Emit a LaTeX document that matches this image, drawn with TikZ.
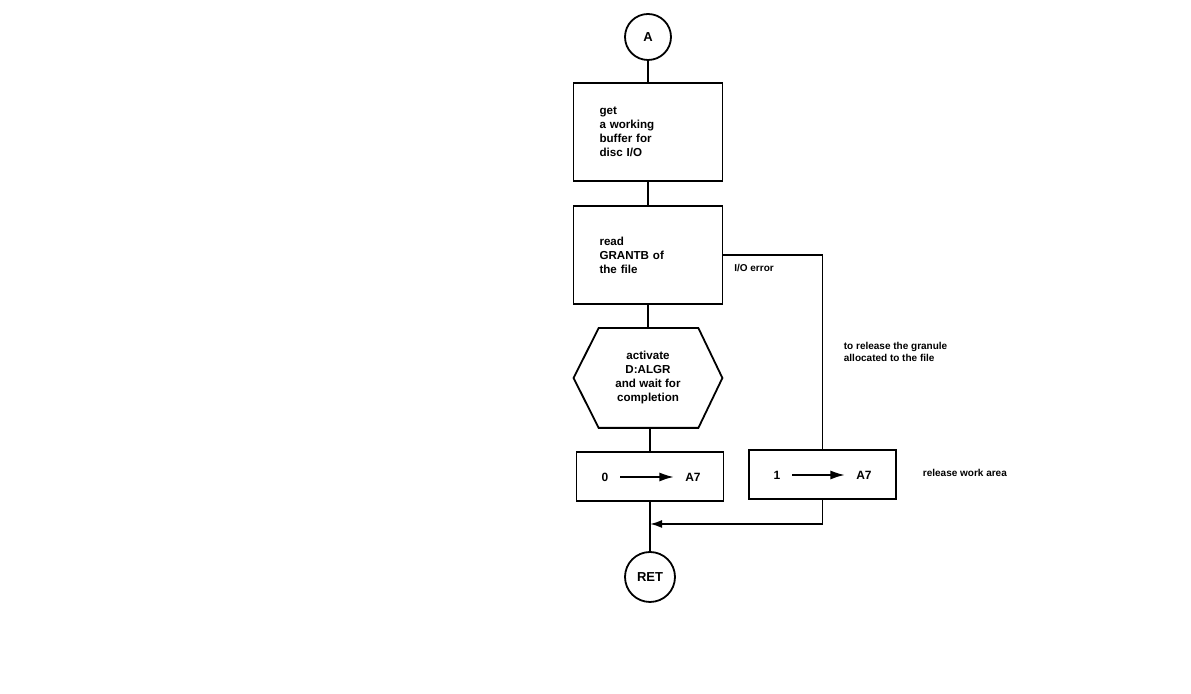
\documentclass[tikz,border=0pt]{standalone}
\usepackage{fontspec}
\setmainfont{Liberation Sans}
\usepackage{tikz}
\usetikzlibrary{positioning,arrows.meta,calc}

\begin{document}
\begin{tikzpicture}[x=0.5pt, y=-0.5pt,
    line width=0.9pt,
    blk/.style={rectangle, draw=black, minimum width=74.5pt, minimum height=49pt,
              text width=48.5pt, inner xsep=13pt, align=left,
              font=\fontsize{5.8}{7}\selectfont\bfseries},
    sbox/.style={rectangle, draw=black, minimum width=73.5pt, minimum height=24.5pt},
    hexa/.style={rectangle, minimum width=73.5pt, minimum height=49pt, align=center,
              font=\fontsize{5.8}{7}\selectfont\bfseries},
    term/.style={circle, draw=black, minimum size=23pt, inner sep=0pt,
              font=\fontsize{6.5}{7}\selectfont\bfseries},
    val/.style={inner xsep=5.5pt, inner ysep=1pt, font=\fontsize{6}{7}\selectfont\bfseries},
    lbl/.style={inner sep=0pt, align=left, font=\fontsize{5}{6}\selectfont\bfseries},
    tip/.style={-{Latex[length=7pt, width=4.5pt]}, line width=0.6pt}
]
    \useasboundingbox (0,0) rectangle (1191,694);

    % main column
    \node[term] (a) at (648,37) {A};
    \node[blk] (buf) at (648,132) {get\\ a working\\ buffer for\\ disc I/O};
    \node[blk] (rd) at (648,255) {read\\ GRANTB of\\ the file};
    \node[hexa] (act) at (648,378) {activate\\ D:ALGR\\ and wait for\\ completion};
    \draw ([xshift=12.5pt]act.north west) -- ([xshift=-12pt]act.north east) -- (act.east)
        -- ([xshift=-12pt]act.south east) -- ([xshift=12.5pt]act.south west) -- (act.west) -- cycle;
    \node[sbox] (z) at (650,476.5) {};
    \node[term, minimum size=25pt] (ret) at (650,577) {RET};

    % error branch
    \node[sbox] (one) at (822.5,474.5) {};
    \node[lbl, below right=4pt and 5pt of rd.east] (ioerr) {I/O error};
    \node[lbl, anchor=west] (gran) at (843,352) {to release the granule\\ allocated to the file};
    \node[lbl, anchor=west] (rel) at (922,473) {release work area};

    % contents of the small boxes
    \node[val] (z0) at (605,477) {0};
    \node[val] (za) at (693,477) {A7};
    \draw[tip] (z0) -- (za);
    \node[val] (o1) at (777,475) {1};
    \node[val] (oa) at (864,475) {A7};
    \draw[tip] (o1) -- (oa);

    % connectors
    \draw (a) -- (buf);
    \draw (buf) -- (rd);
    \draw (rd.south) -- (act.north -| rd.south);
    \draw (act.south -| z.north) -- (z);
    \draw (z) -- (ret);
    \draw (rd.east) -| (one.north);
    \coordinate (j) at (650,524);
    \draw[-{Latex[length=6pt, width=4pt]}] (one.south) |- (j);
\end{tikzpicture}
\end{document}
